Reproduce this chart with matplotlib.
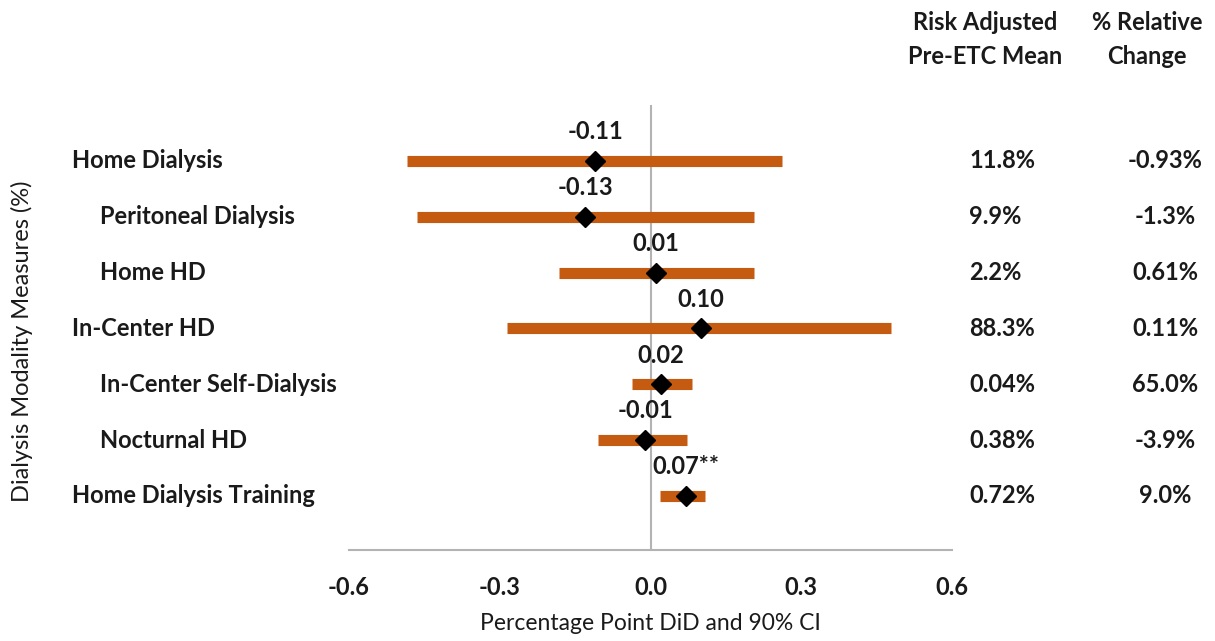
import matplotlib
matplotlib.use("Agg")
import matplotlib.pyplot as plt

plt.rcParams['font.family'] = ['Lato', 'DejaVu Sans']

measures = ['Home Dialysis', 'Peritoneal Dialysis', 'Home HD', 'In-Center HD',
            'In-Center Self-Dialysis', 'Nocturnal HD', 'Home Dialysis Training']
indent = [0, 1, 1, 0, 1, 1, 0]
did = [-0.11, -0.13, 0.01, 0.10, 0.02, -0.01, 0.07]
did_labels = ['-0.11', '-0.13', '0.01', '0.10', '0.02', '-0.01', '0.07**']
ci_low = [-0.484, -0.464, -0.183, -0.285, -0.036, -0.104, 0.018]
ci_high = [0.261, 0.205, 0.205, 0.478, 0.082, 0.072, 0.108]
pre_mean = ['11.8%', '9.9%', '2.2%', '88.3%', '0.04%', '0.38%', '0.72%']
rel_change = ['-0.93%', '-1.3%', '0.61%', '0.11%', '65.0%', '-3.9%', '9.0%']
xticks = [-0.6, -0.3, 0.0, 0.3, 0.6]

orange = '#C55A11'
gray = '#B3B3B3'
txt = '#1a1a1a'
fs = 17

fig = plt.figure(figsize=(12.15, 6.41), dpi=100)
ax = fig.add_axes([349/1215, 1-550/641, (952-349)/1215, (550-105)/641])

rows = list(range(len(measures)))
ax.hlines(rows, ci_low, ci_high, color=orange, linewidth=8, zorder=2)
ax.plot(did, rows, linestyle='none', marker='D', color='black', markersize=10, zorder=3)
ax.axvline(0, color=gray, linewidth=1.5, zorder=1)

for r, x, lab in zip(rows, did, did_labels):
    ax.text(x, r - 0.52, lab, ha='center', va='center', fontsize=fs, fontweight='bold', color=txt)

ax.set_xlim(-0.6, 0.6)
ax.set_ylim(6.97, -1)
ax.set_yticks([])
ax.set_xticks(xticks)
ax.set_xticklabels(['%.1f' % t for t in xticks], fontsize=fs, fontweight='bold', color=txt)
ax.tick_params(axis='x', length=0, pad=19)
for s in ['top', 'right', 'left']:
    ax.spines[s].set_visible(False)
ax.spines['bottom'].set_color(gray)
ax.spines['bottom'].set_linewidth(1.5)
fig.text(650 / 1215, 1 - 624 / 641, 'Percentage Point DiD and 90% CI', ha='center',
         va='center', fontsize=16.5, color=txt)

# category labels and side columns, placed in figure pixel coords
for r, name, ind in zip(rows, measures, indent):
    ydisp = ax.transData.transform((0, r))[1]
    yf = ydisp / fig.bbox.height
    fig.text((72 + 28 * ind) / 1215, yf, name, ha='left', va='center', fontsize=fs,
             fontweight='bold', color=txt)
    fig.text(969 / 1215, yf, pre_mean[r], ha='left', va='center', fontsize=fs,
             fontweight='bold', color=txt)
    fig.text(1165 / 1215, yf, rel_change[r], ha='center', va='center', fontsize=fs,
             fontweight='bold', color=txt)

fig.text(985 / 1215, 1 - 23 / 641, 'Risk Adjusted', ha='center', va='center', fontsize=fs,
         fontweight='bold', color=txt)
fig.text(985 / 1215, 1 - 56 / 641, 'Pre-ETC Mean', ha='center', va='center', fontsize=fs,
         fontweight='bold', color=txt)
fig.text(1147 / 1215, 1 - 23 / 641, '% Relative', ha='center', va='center', fontsize=fs,
         fontweight='bold', color=txt)
fig.text(1147 / 1215, 1 - 56 / 641, 'Change', ha='center', va='center', fontsize=fs,
         fontweight='bold', color=txt)

fig.text(22 / 1215, 1 - 341 / 641, 'Dialysis Modality Measures (%)', rotation=90,
         ha='center', va='center', fontsize=17, color=txt)

plt.savefig('out.png', dpi=100)
plt.close(fig)
